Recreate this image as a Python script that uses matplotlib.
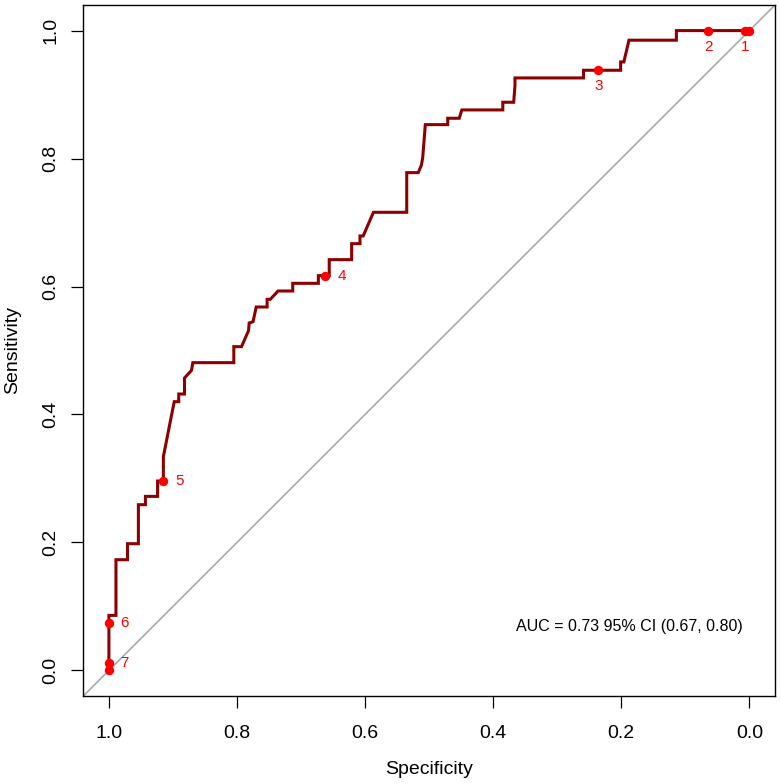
import matplotlib
matplotlib.use("Agg")
import matplotlib.pyplot as plt

plt.rcParams['font.family'] = ['Liberation Sans', 'DejaVu Sans']

# ROC path (specificity, sensitivity)
spec = [1.0, 1.0, 0.989, 0.989, 0.971, 0.971, 0.954, 0.954, 0.943, 0.943,
        0.924, 0.924, 0.915, 0.915, 0.903, 0.898, 0.891, 0.891, 0.882, 0.882,
        0.871, 0.869, 0.805, 0.805, 0.793, 0.782, 0.781, 0.775, 0.770, 0.753,
        0.753, 0.748, 0.736, 0.713, 0.713, 0.673, 0.673, 0.656, 0.656, 0.621,
        0.621, 0.608, 0.608, 0.603, 0.587, 0.535, 0.535, 0.517, 0.512, 0.510,
        0.506, 0.471, 0.471, 0.453, 0.449, 0.385, 0.385, 0.368, 0.366, 0.366,
        0.259, 0.259, 0.201, 0.201, 0.196, 0.188, 0.114, 0.114, 0.0]
sens = [0.0, 0.086, 0.086, 0.173, 0.173, 0.198, 0.198, 0.259, 0.259, 0.272,
        0.272, 0.296, 0.296, 0.334, 0.395, 0.420, 0.420, 0.432, 0.432, 0.457,
        0.469, 0.481, 0.481, 0.506, 0.506, 0.531, 0.543, 0.545, 0.568, 0.568,
        0.580, 0.580, 0.593, 0.593, 0.605, 0.605, 0.617, 0.617, 0.642, 0.642,
        0.667, 0.667, 0.679, 0.679, 0.716, 0.716, 0.778, 0.778, 0.790, 0.802,
        0.853, 0.853, 0.863, 0.863, 0.876, 0.876, 0.888, 0.888, 0.914, 0.926,
        0.926, 0.938, 0.938, 0.951, 0.951, 0.985, 0.985, 1.0, 1.0]

# threshold points
thr_labels = ['1', '2', '3', '4', '5', '6', '7']
thr_spec = [0.007, 0.064, 0.236, 0.662, 0.915, 1.0, 1.0]
thr_sens = [1.0, 1.0, 0.938, 0.617, 0.296, 0.074, 0.012]
extra_spec = [0.0, 1.0]
extra_sens = [1.0, 0.0]

auc_text = "AUC = 0.73 95% CI (0.67, 0.80)"

fig = plt.figure(figsize=(7.8, 7.84), dpi=100)
ax = fig.add_axes([83.3 / 780, 88 / 784, 691.7 / 780, 691 / 784])

ax.plot([1.04, -0.04], [-0.04, 1.04], color='#aaaaaa', lw=1.2, zorder=1)
ax.plot(spec, sens, color='#8b0000', lw=2.2, zorder=2, solid_joinstyle='miter')
ax.plot(thr_spec + extra_spec, thr_sens + extra_sens, 'o', color='red',
        ms=6.8, mec='none', zorder=3)

for lab, s, se in zip(thr_labels, thr_spec, thr_sens):
    if lab in ('1', '2', '3'):
        ax.annotate(lab, (s, se), xytext=(0, -6.5), textcoords='offset points',
                    ha='center', va='top', color='red', fontsize=11)
    else:
        ax.annotate(lab, (s, se), xytext=(8.5, 0), textcoords='offset points',
                    ha='left', va='center', color='red', fontsize=11)

ax.text(0.365, 0.069, auc_text, ha='left', va='center', fontsize=11.5)

ax.set_xlim(1.04, -0.04)
ax.set_ylim(-0.04, 1.04)
ticks = [0.0, 0.2, 0.4, 0.6, 0.8, 1.0]
ax.set_xticks(ticks)
ax.set_yticks(ticks)
ax.set_xticklabels(['%.1f' % t for t in ticks])
ax.set_yticklabels(['%.1f' % t for t in ticks], rotation=90, va='center')
ax.tick_params(direction='out', length=8.4, width=0.9, labelsize=14)
ax.tick_params(axis='x', pad=12.5)
ax.tick_params(axis='y', pad=9)
for sp in ax.spines.values():
    sp.set_linewidth(1.0)

fig.text(429 / 780, 1 - 770 / 784, 'Specificity', ha='center', va='center', fontsize=14)
fig.text(13 / 780, 1 - 350 / 784, 'Sensitivity', ha='center', va='center',
         rotation=90, fontsize=14)

fig.savefig('out.png', dpi=100)
